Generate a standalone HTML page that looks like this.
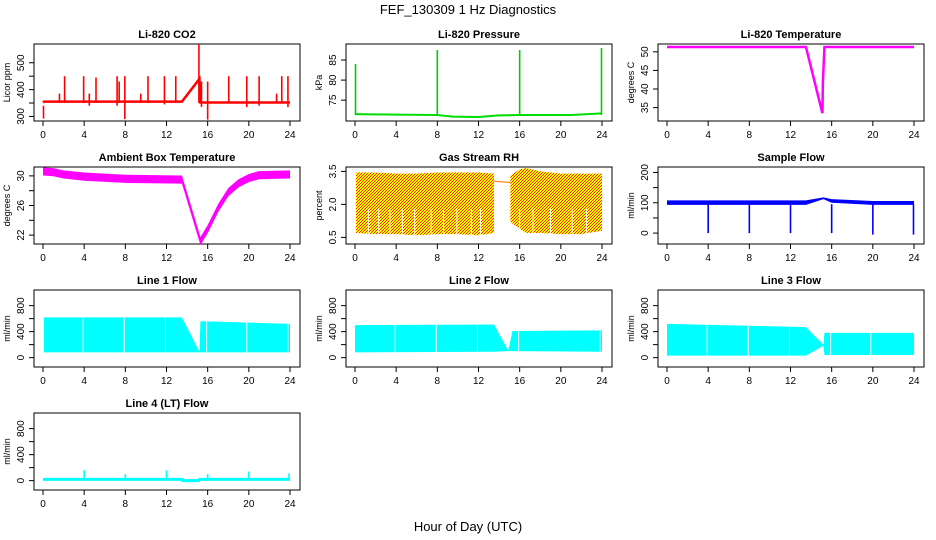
<!DOCTYPE html>
<html><head><meta charset="utf-8">
<style>
html,body{margin:0;padding:0;background:#fff;}
svg{display:block;font-family:"Liberation Sans",Arial,sans-serif;}
</style></head>
<body>
<svg id="fig" width="936" height="540" viewBox="0 0 936 540" xmlns="http://www.w3.org/2000/svg">
<defs>
<pattern id="rhpat" width="3" height="3" patternUnits="userSpaceOnUse">
<rect width="3" height="3" fill="#ffff00"/><rect x="0" y="0" width="1" height="1" fill="#ff2000"/><rect x="2" y="1" width="1" height="1" fill="#ff2000"/><rect x="1" y="2" width="1" height="1" fill="#ff2000"/>
</pattern>
</defs>
<text x="468" y="14" font-size="13" text-anchor="middle">FEF_130309  1 Hz Diagnostics</text>
<text x="468" y="531" font-size="13" text-anchor="middle">Hour of Day (UTC)</text>
</svg>
<script>
// ---- data arrays ----
const xTicks = [0,4,8,12,16,20,24];
// CO2
const co2T = [0,0.1,13.5,15.2,15.3,24];
const co2V = [352,355,355,440,352,352];
const co2SpikeT = [0.05,1.6,2.1,3.95,4.5,5.15,7.2,7.4,7.95,9.5,10.2,11.8,12.9,15.15,15.4,16.0,18.05,19.8,21.0,22.7,23.2,23.8];
const co2SpikeHi = [340,385,450,450,385,445,450,430,450,385,450,450,450,570,430,430,450,450,450,385,450,450];
const co2SpikeLo = [292,350,350,350,340,350,340,350,290,350,350,345,350,350,335,288,350,335,340,350,350,335];
const co2Ticks = [300,350,400,450,500];
const co2Labels = ['300','','400','','500'];
// Pressure
const presT = [0,4,8,9.5,12,14,16,21,24];
const presV = [71.5,71.4,71.3,70.9,70.8,71.2,71.3,71.3,71.7];
const presSpikeT = [0.05,8.0,16.0,23.95];
const presSpikeV = [84,87.5,87.5,88];
const presTicks = [75,80,85];
const presLabels = ['75','80','85'];
// Li-820 temperature
const tempT = [0,13.5,15.1,15.15,15.3,24];
const tempV = [51.3,51.3,33.5,42,51.3,51.3];
const tempTicks = [35,40,45,50];
const tempLabels = ['35','40','45','50'];
// Ambient
const ambT = [0,1,2,4,8,13.5,15.3,16,17,18,19,20,21,24];
const ambV = [30.6,30.5,30.2,29.9,29.6,29.5,21.2,22.8,25.6,27.8,29.0,29.7,30.1,30.2];
const ambTicks = [22,24,26,28,30];
const ambLabels = ['22','','26','','30'];
// RH bands
const rhT1 = [0.1,2,4,6,8,10,12,13.5];
const rhHi1 = [3.45,3.45,3.4,3.4,3.45,3.45,3.45,3.4];
const rhLo1 = [0.7,0.65,0.65,0.6,0.65,0.65,0.6,0.7];
const rhGapT = [13.5,15.1];
const rhGapV = [3.05,3.0];
const rhT2 = [15.1,16,16.6,18,20,22,24];
const rhHi2 = [3.3,3.6,3.65,3.5,3.4,3.4,3.4];
const rhLo2 = [1.2,0.9,0.7,0.7,0.65,0.65,0.8];
const rhTicks = [0.5,2.0,3.5];
const rhLabels = ['0.5','2.0','3.5'];
// Sample flow
const sfT = [0,13.5,15.2,16,20,24];
const sfHi = [108,108,118,112,106,106];
const sfLo = [93,93,112,100,93,93];
const sfDipT = [4,8,12,16,20,23.95];
const sfDipV = [0,0,0,0,-5,-5];
const sfTicks = [0,50,100,150,200];
const sfLabels = ['0','','100','','200'];
// Line flows
const l1T = [0.1,13.5,15.2,15.3,24];
const l1Hi = [620,620,90,560,520];
const l1Lo = [80,80,80,80,80];
const l2T = [0,13.5,14.9,15.3,24];
const l2Hi = [500,510,110,410,420];
const l2Lo = [80,90,100,100,90];
const l3T = [0,13.5,15.2,15.3,24];
const l3Hi = [520,470,200,380,380];
const l3Lo = [30,30,180,40,40];
const l4T = [0,13.5,13.6,15.1,15.2,24];
const l4V = [20,20,0,0,20,20];
const l4SpikeT = [4,8,12,16,20,23.9];
const l4SpikeV = [160,100,160,100,140,110];
const flowTicks = [0,200,400,600,800];
const flowLabels = ['0','','400','','800'];

// ---- helpers ----
const NS='http://www.w3.org/2000/svg';
const svg=document.getElementById('fig');
function mk(tag,attrs,parent){const e=document.createElementNS(NS,tag);for(const k in attrs)e.setAttribute(k,attrs[k]);(parent||svg).appendChild(e);return e;}
function panel(col,row,title,ylim,yticks,ylabels,ylab,name){
  const x0=43+col*312, top=44+row*123, h=77;
  const g=mk('g',{});
  
  
  const sx=t=>x0+t*247/24;
  const sy=v=>top+h-(v-ylim[0])/(ylim[1]-ylim[0])*h;
  const box=mk('rect',{x:x0-9,y:top,width:266,height:h,fill:'none',stroke:'#000','stroke-width':1},g);
  
  
  const tt=mk('text',{x:x0+124,y:top-6,'font-size':11,'font-weight':'bold','text-anchor':'middle'},g);
  tt.textContent=title;
  
  
  const xa=mk('g',{},g);
  
  
  mk('line',{x1:sx(0),x2:sx(24),y1:top+h,y2:top+h,stroke:'#000'},xa);
  xTicks.forEach(t=>{mk('line',{x1:sx(t),x2:sx(t),y1:top+h,y2:top+h+5,stroke:'#000'},xa);
    const l=mk('text',{x:sx(t),y:top+h+17,'font-size':10,'text-anchor':'middle'},xa);l.textContent=t;});
  const ya=mk('g',{},g);
  
  
  yticks.forEach(v=>{mk('line',{x1:x0-9,x2:x0-14,y1:sy(v),y2:sy(v),stroke:'#000'},ya);});
  yticks.forEach((v,i)=>{ if(!ylabels[i])return;
    const l=mk('text',{x:0,y:0,'font-size':10,'text-anchor':'middle',transform:`translate(${x0-19},${sy(v)}) rotate(-90)`},ya);l.textContent=ylabels[i];});
  const yl=mk('text',{x:0,y:0,'font-size':9,'text-anchor':'middle',transform:`translate(${x0-33},${top+h/2}) rotate(-90)`},g);
  yl.textContent=ylab;
  
  
  return {g,sx,sy};
}
function line(p,T,V,color,w,name){
  const e=mk('polyline',{points:T.map((t,i)=>p.sx(t)+','+p.sy(V[i])).join(' '),fill:'none',stroke:color,'stroke-width':w},p.g);
  
  
}
function band(p,T,H,L,fill,name){
  const pts=T.map((t,i)=>p.sx(t)+','+p.sy(H[i])).concat(T.map((t,i)=>p.sx(t)+','+p.sy(L[i])).reverse());
  const e=mk('polygon',{points:pts.join(' '),fill:fill,stroke:'none'},p.g);
  
  
}
function spikes(p,T,Hi,Lo,color,name){
  T.forEach((t,i)=>{const e=mk('line',{x1:p.sx(t),x2:p.sx(t),y1:p.sy(Hi[i]),y2:p.sy(Lo[i]),stroke:color,'stroke-width':1.6},p.g);
    
    });
}
function gaps(p,T,ylo,yhi,name){
  T.forEach(t=>{const e=mk('line',{x1:p.sx(t),x2:p.sx(t),y1:p.sy(yhi),y2:p.sy(ylo),stroke:'#fff','stroke-width':1},p.g);
    
    });
}

// CO2
let p=panel(0,0,'Li-820 CO2',[283,570],co2Ticks,co2Labels,'Licor ppm','co2');
line(p,co2T,co2V,'#ff0000',2.5,'co2-line');
spikes(p,co2SpikeT,co2SpikeHi,co2SpikeLo,'#ff0000','co2-spike');
// Pressure
p=panel(1,0,'Li-820 Pressure',[69.8,89],presTicks,presLabels,'kPa','pressure');
line(p,presT,presV,'#00dd00',2,'pressure-line');
spikes(p,presSpikeT,presSpikeV,presSpikeT.map(()=>71.3),'#00cc00','pressure-spike');
// Temperature
p=panel(2,0,'Li-820 Temperature',[31.4,52.1],tempTicks,tempLabels,'degrees C','li820-temp');
line(p,tempT,tempV,'#ff00ff',2.5,'li820-temp-line');
// Ambient
p=panel(0,1,'Ambient Box Temperature',[20.8,31.2],ambTicks,ambLabels,'degrees C','ambient');
band(p,ambT,ambV.map(v=>v+0.55),ambV.map(v=>v-0.55),'#ff00ff','ambient-band');
// RH
p=panel(1,1,'Gas Stream RH',[0.2,3.7],rhTicks,rhLabels,'percent','rh');
band(p,rhT1,rhHi1,rhLo1,'url(#rhpat)','rh-band-1');
band(p,rhT2,rhHi2,rhLo2,'url(#rhpat)','rh-band-2');
line(p,rhGapT,rhGapV,'#ff8000',1.2,'rh-gap-line');
gaps(p,[1.3,2.3,3.4,4.6,5.8,7.4,8.6,9.9,11.3,12.2,16.0,17.3,19.0,21.1,22.5],0.6,1.8,'rh-gap');
// Sample flow
p=panel(2,1,'Sample Flow',[-36,218],sfTicks,sfLabels,'ml/min','sample-flow');
band(p,sfT,sfHi,sfLo,'#0000ff','sample-flow-band');
spikes(p,sfDipT,sfDipT.map(()=>95),sfDipV,'#0000ff','sample-flow-dip');
// Lines
const ylimF=[-144,1040];
p=panel(0,2,'Line 1 Flow',ylimF,flowTicks,flowLabels,'ml/min','line1-flow');
band(p,l1T,l1Hi,l1Lo,'#00ffff','line1-band');
gaps(p,[3.9,7.9,11.9,15.9,19.8,23.8],60,700,'line1-gap');
p=panel(1,2,'Line 2 Flow',ylimF,flowTicks,flowLabels,'ml/min','line2-flow');
band(p,l2T,l2Hi,l2Lo,'#00ffff','line2-band');
gaps(p,[3.9,7.9,11.9,15.9,23.8],60,700,'line2-gap');
p=panel(2,2,'Line 3 Flow',ylimF,flowTicks,flowLabels,'ml/min','line3-flow');
band(p,l3T,l3Hi,l3Lo,'#00ffff','line3-band');
gaps(p,[3.9,7.9,11.9,15.9,19.8],0,700,'line3-gap');
p=panel(0,3,'Line 4 (LT) Flow',ylimF,flowTicks,flowLabels,'ml/min','line4-flow');
line(p,l4T,l4V,'#00ffff',3,'line4-line');
spikes(p,l4SpikeT,l4SpikeV,l4SpikeT.map(()=>15),'#00ffff','line4-spike');
</script>
</body></html>
